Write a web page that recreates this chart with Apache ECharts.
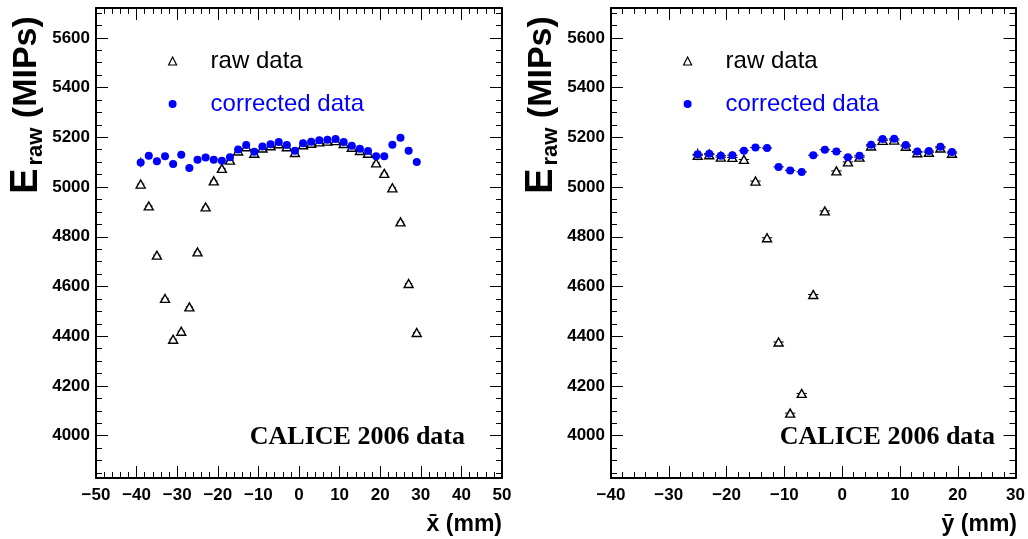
<!DOCTYPE html>
<html><head><meta charset="utf-8">
<script src="https://cdn.jsdelivr.net/npm/echarts@6/dist/echarts.min.js"></script>
<style>html,body{margin:0;padding:0;background:#fff}#c{width:1028px;height:539px}</style>
</head><body><div id="c"></div><script>
// ---- data ----
const xLeft = [-39,-37,-35,-33,-31,-29,-27,-25,-23,-21,-19,-17,-15,-13,-11,-9,-7,-5,-3,-1,1,3,5,7,9,11,13,15,17,19,21,23,25,27,29];
const rawLeft = [5012,4924,4726,4552,4388,4420,4518,4739,4920,5025,5075,5108,5145,5162,5136,5157,5166,5174,5162,5139,5170,5176,5182,5185,5187,5175,5160,5147,5136,5097,5055,4997,4860,4612,4415];
const corrLeft = [5099,5126,5104,5124,5093,5130,5077,5110,5119,5110,5106,5120,5151,5169,5142,5163,5172,5181,5169,5146,5176,5182,5188,5190,5193,5181,5166,5154,5145,5124,5124,5170,5198,5146,5101];
const corrErrLeft = [20,14,13,13,16,13,13,12,12,12,12,11,11,11,11,11,11,11,11,11,11,11,11,11,11,11,11,11,11,12,12,12,13,14,15];
const xRight = [-25,-23,-21,-19,-17,-15,-13,-11,-9,-7,-5,-3,-1,1,3,5,7,9,11,13,15,17,19];
const rawRight = [5128,5130,5120,5119,5111,5024,4796,4377,4091,4170,4568,4904,5065,5101,5120,5165,5188,5189,5164,5138,5140,5157,5136];
const corrRight = [5132,5134,5126,5128,5146,5159,5157,5081,5067,5061,5128,5150,5143,5120,5126,5170,5193,5194,5169,5143,5145,5162,5141];
const corrErrRight = [24,20,19,17,12,10,10,10,10,10,10,10,10,10,10,10,10,10,10,10,10,10,10];
const xHalfWidth = 0.9;
const yMajorTicks = [4000,4200,4400,4600,4800,5000,5200,5400,5600];
const yMinorTicks = [];
for (let v = 3850; v <= 5700; v += 50) yMinorTicks.push(v);
const seriesNames = ['raw data', 'corrected data'];
const xTitles = ['x\u0304 (mm)', '\u0233 (mm)'];
const stampText = 'CALICE 2006 data';

// ---- chart ----
const SANS = 'Liberation Sans, Arial, Helvetica, sans-serif';
const SERIF = 'Liberation Serif, Times New Roman, serif';
const chart = echarts.init(document.getElementById('c'), null, {renderer: 'canvas'});
const fmtX = v => (v < 0 ? '\u2212' + Math.abs(v) : String(v));
const fmtY = v => String(v);

function xAxes(grid, min, max) {
  const base = {
    gridIndex: grid, type: 'value', min: min, max: max, interval: 10,
    axisLine: {show: true, onZero: false, lineStyle: {color: '#000', width: 2}},
    axisTick: {show: true, inside: true, length: 12, lineStyle: {color: '#000', width: 1}},
    minorTick: {show: true, splitNumber: 5, length: 6, lineStyle: {color: '#000', width: 1}},
    splitLine: {show: false}, minorSplitLine: {show: false}
  };
  return [
    Object.assign({}, base, {position: 'bottom',
      axisLabel: {show: true, margin: 9, color: '#000', fontSize: 17, fontWeight: 'bold', fontFamily: SANS, formatter: fmtX}}),
    Object.assign({}, base, {position: 'top', axisLabel: {show: false}})
  ];
}
function yAxes(grid) {
  const base = {gridIndex: grid, type: 'value', min: 3830, max: 5720,
    splitLine: {show: false}, axisLabel: {show: false}};
  const out = [];
  ['left', 'right'].forEach(pos => {
    out.push(Object.assign({}, base, {position: pos,
      axisLine: {show: true, onZero: false, lineStyle: {color: '#000', width: 2}},
      axisTick: {show: true, inside: true, length: 12, customValues: yMajorTicks, lineStyle: {color: '#000', width: 1}},
      axisLabel: pos === 'left' ? {show: true, margin: 6, color: '#000', fontSize: 17, fontWeight: 'bold', fontFamily: SANS, customValues: yMajorTicks, formatter: fmtY} : {show: false}
    }));
    out.push(Object.assign({}, base, {position: pos,
      axisLine: {show: false, onZero: false},
      axisTick: {show: true, inside: true, length: 6, customValues: yMinorTicks, lineStyle: {color: '#000', width: 1}}
    }));
  });
  return out;
}
function errRender(params, api) {
  const x = api.value(0), y = api.value(1), xe = api.value(2), ye = api.value(3);
  const a = api.coord([x - xe, y]), b = api.coord([x + xe, y]);
  const c = api.coord([x, y - ye]), d = api.coord([x, y + ye]);
  const st = {stroke: '#000', lineWidth: 1};
  return {type: 'group', children: [
    {type: 'line', shape: {x1: a[0], y1: a[1], x2: b[0], y2: b[1]}, style: st},
    {type: 'line', shape: {x1: c[0], y1: c[1], x2: d[0], y2: d[1]}, style: st}
  ]};
}
function seriesFor(xi, yi, xs, raw, corr, cerr) {
  return [
    {type: 'custom', name: 'err', xAxisIndex: xi, yAxisIndex: yi, z: 1, renderItem: errRender,
      data: xs.map((x, i) => [x, raw[i], xHalfWidth, 0]).concat(xs.map((x, i) => [x, corr[i], xHalfWidth, cerr[i]]))},
    {type: 'scatter', name: seriesNames[0], xAxisIndex: xi, yAxisIndex: yi, z: 2, symbol: 'triangle', symbolSize: [9, 8],
      itemStyle: {color: '#fff', borderColor: '#000', borderWidth: 1.4, opacity: 1}, data: xs.map((x, i) => [x, raw[i]])},
    {type: 'scatter', name: seriesNames[1], xAxisIndex: xi, yAxisIndex: yi, z: 3, symbol: 'circle', symbolSize: 8,
      itemStyle: {color: '#0000ff', opacity: 1}, data: xs.map((x, i) => [x, corr[i]])}
  ];
}
function legendAt(left) {
  return {left: left, top: 44, orient: 'vertical', itemWidth: 8, itemHeight: 8, itemGap: 19, selectedMode: false,
    textStyle: {fontSize: 24, fontFamily: SANS, color: '#000', lineHeight: 24, padding: [0, 0, 0, 29]},
    data: [
      {name: seriesNames[0], icon: 'triangle', itemStyle: {color: '#fff', borderColor: '#000', borderWidth: 1.2}},
      {name: seriesNames[1], icon: 'circle', itemStyle: {color: '#0000ff', opacity: 1}, textStyle: {color: '#0000ff'}}
    ]};
}
function yTitle(cx) {
  return {type: 'text', x: cx, y: 105, rotation: Math.PI / 2, z: 10,
    style: {text: '{e|E}{s|raw}{m| (MIPs)}', align: 'center', verticalAlign: 'middle',
      rich: {
        e: {fontSize: 38, fontWeight: 'bold', fontFamily: SANS, fill: '#000', lineHeight: 40, verticalAlign: 'middle'},
        s: {fontSize: 22, fontWeight: 'bold', fontFamily: SANS, fill: '#000', lineHeight: 28, verticalAlign: 'bottom', padding: [0, 0, 0, 3]},
        m: {fontSize: 34, fontWeight: 'bold', fontFamily: SANS, fill: '#000', lineHeight: 40, verticalAlign: 'middle'}
      }}};
}
function xTitle(rx, txt) {
  return {type: 'text', x: rx, y: 525, z: 10,
    style: {text: txt, align: 'right', verticalAlign: 'middle', fontSize: 23, fontWeight: 'bold', fontFamily: SANS, fill: '#000'}};
}
function stamp(rx) {
  return {type: 'text', x: rx, y: 437, z: 10,
    style: {text: stampText, align: 'right', verticalAlign: 'middle', fontSize: 26, fontWeight: 'bold', fontFamily: SERIF, fill: '#000'}};
}

chart.setOption({
  animation: false,
  backgroundColor: '#fff',
  grid: [
    {left: 96, top: 8, width: 406, height: 470, containLabel: false},
    {left: 611, top: 8, width: 406, height: 470, containLabel: false}
  ],
  xAxis: xAxes(0, -50, 50).concat(xAxes(1, -40, 30)),
  yAxis: yAxes(0).concat(yAxes(1)),
  legend: [legendAt(163), legendAt(678)],
  series: seriesFor(0, 0, xLeft, rawLeft, corrLeft, corrErrLeft).concat(seriesFor(2, 4, xRight, rawRight, corrRight, corrErrRight)),
  graphic: [yTitle(27), yTitle(542), xTitle(502, xTitles[0]), xTitle(1017, xTitles[1]), stamp(465), stamp(995)]
});
</script></body></html>
